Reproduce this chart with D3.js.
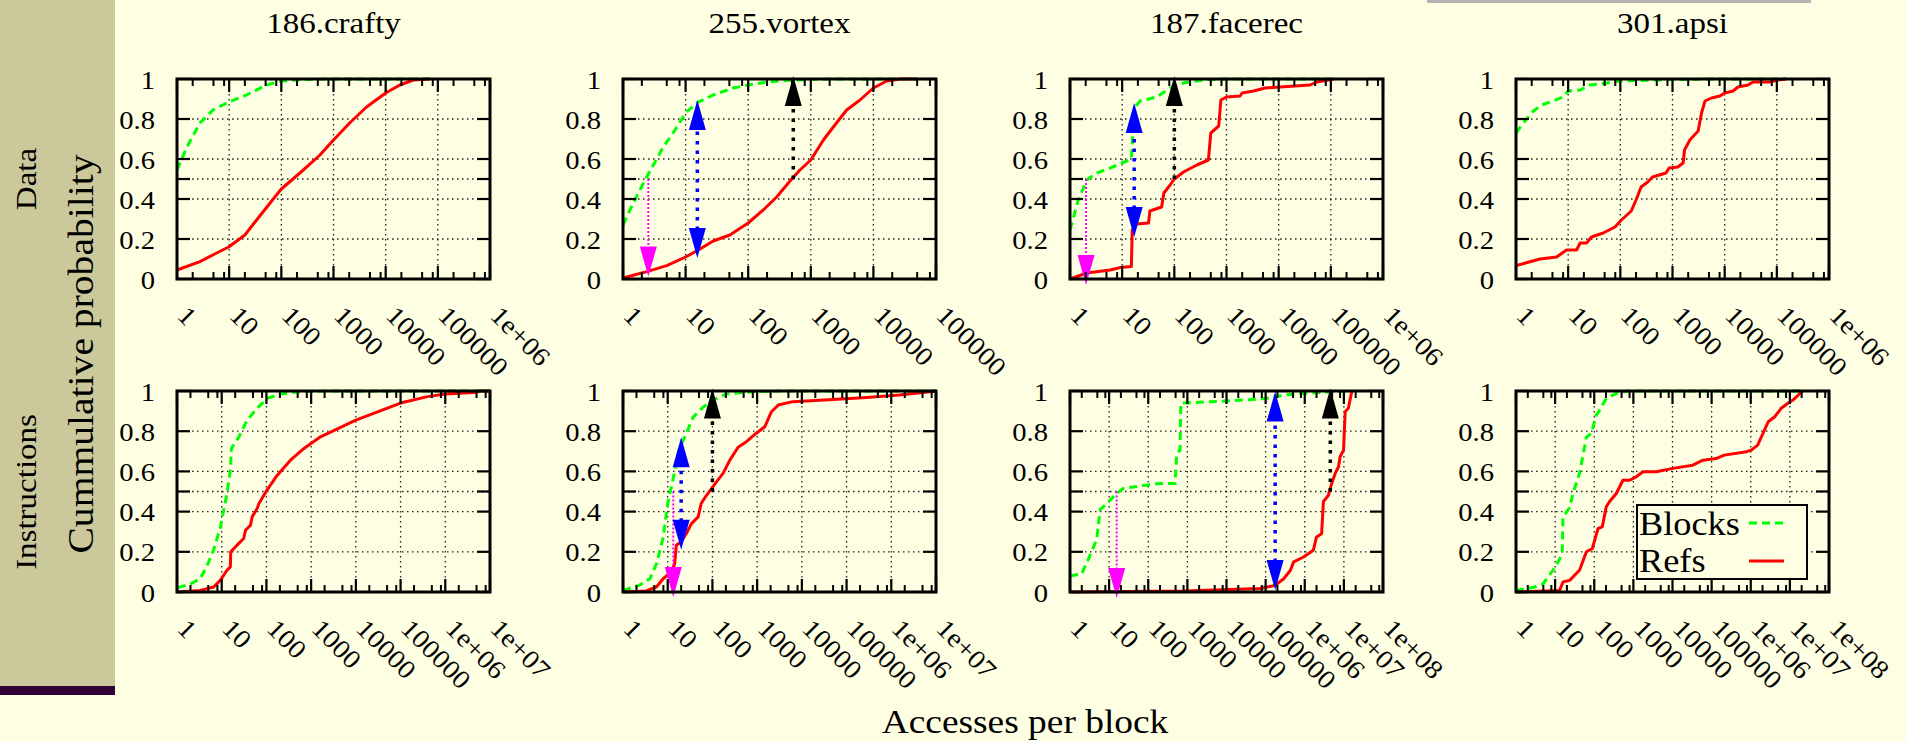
<!DOCTYPE html>
<html>
<head>
<meta charset="utf-8">
<script src="https://cdn.jsdelivr.net/npm/d3@7"></script>
<style>
  html, body { margin: 0; padding: 0; background: #fefee2; }
  svg { display: block; }
</style>
</head>
<body>
<div id="chart"></div>
<script>
const benchmarks = ["186.crafty", "255.vortex", "187.facerec", "301.apsi"];
const rowLabels = ["Data", "Instructions"];
const topDecades = [6, 5, 6, 6];
const bottomDecades = [7, 7, 8, 8];
const xTickLabels = ["1", "10", "100", "1000", "10000", "100000", "1e+06", "1e+07", "1e+08"];
const yTickValues = [0, 0.2, 0.4, 0.6, 0.8, 1];
const yGridValues = [0.2, 0.4, 0.5, 0.6, 0.8];
const minorSteps = [2, 5, 8];
const legendNames = ["Blocks", "Refs"];

// [accesses per block, cumulative probability]
const craftyDataBlocks = [[1,0.545],[1.55,0.66],[2.76,0.78],[4.9,0.845],[9.8,0.885],[21.6,0.92],[52,0.97],[100,0.99],[300,0.998],[1000,1],[70000,1]];
const craftyDataRefs = [[1,0.045],[2.76,0.087],[5.75,0.13],[9.8,0.16],[20,0.22],[33.6,0.295],[70,0.40],[100,0.45],[227,0.53],[550,0.62],[1000,0.695],[2040,0.78],[4300,0.86],[10000,0.93],[18700,0.97],[34000,0.995],[70000,1]];

const vortexDataBlocks = [[1,0.27],[1.46,0.38],[2.39,0.51],[4.4,0.66],[6.3,0.73],[10,0.83],[15,0.88],[27.6,0.92],[58,0.955],[100,0.97],[200,0.985],[525,0.995],[2000,1],[50000,1]];
const vortexDataRefs = [[1,0.005],[2.4,0.037],[5,0.067],[10,0.11],[17,0.15],[27.6,0.19],[51,0.22],[100,0.28],[174,0.345],[285,0.41],[465,0.49],[670,0.545],[1000,0.595],[1590,0.695],[2290,0.76],[3740,0.845],[6100,0.895],[10000,0.955],[16300,0.99],[27000,1],[50000,1]];
const vortexDataArrows = [
  { x: 2.54, y1: 0.5, y2: 0.012, kind: "blocksMedian" },
  { x: 15.4, y1: 0.105, y2: 0.895, kind: "gap" },
  { x: 525, y1: 0.5, y2: 1.015, kind: "refsMedian" }
];

const facerecDataBlocks = [[1,0.245],[1.44,0.395],[2.09,0.495],[3.25,0.53],[5.9,0.555],[10,0.58],[15,0.6],[15.8,0.7],[17.7,0.86],[22,0.89],[46,0.91],[83,0.955],[150,0.98],[360,0.995],[1000,1],[110000,1]];
const facerecDataRefs = [[1,0],[2.09,0.03],[5.9,0.045],[9.1,0.057],[15,0.062],[15.6,0.245],[19,0.275],[32,0.28],[34,0.34],[57,0.36],[63,0.43],[83,0.47],[100,0.5],[150,0.535],[270,0.57],[450,0.595],[500,0.73],[710,0.765],[780,0.895],[1000,0.91],[1820,0.915],[2000,0.93],[3300,0.94],[5500,0.955],[10700,0.96],[40000,0.97],[54000,0.985],[113000,1]];
const facerecDataArrows = [
  { x: 2.03, y1: 0.5, y2: -0.03, kind: "blocksMedian" },
  { x: 17, y1: 0.21, y2: 0.88, kind: "gap" },
  { x: 100, y1: 0.5, y2: 1.015, kind: "refsMedian" }
];

const apsiDataBlocks = [[1,0.73],[1.38,0.78],[2.15,0.84],[3.1,0.87],[5.1,0.89],[8,0.91],[10,0.94],[17,0.945],[26,0.97],[55,0.98],[100,0.99],[1000,0.997],[5000,1],[150000,1]];
const apsiDataRefs = [[1,0.067],[2.9,0.10],[6,0.11],[9.3,0.145],[14.5,0.145],[17,0.18],[22.5,0.18],[28,0.21],[47,0.23],[79,0.26],[105,0.295],[162,0.34],[200,0.395],[250,0.46],[335,0.485],[415,0.51],[750,0.53],[860,0.555],[1260,0.56],[1600,0.58],[1700,0.645],[2150,0.695],[3100,0.74],[3600,0.83],[4200,0.89],[5600,0.905],[8100,0.915],[10000,0.93],[14500,0.94],[18000,0.96],[28000,0.97],[35000,0.985],[74000,0.985],[105000,0.995],[150000,1]];

const craftyInstrBlocks = [[1.05,0.022],[2,0.04],[3.3,0.066],[4.7,0.13],[6.6,0.21],[9.3,0.32],[13.1,0.49],[15.6,0.606],[16.5,0.714],[24,0.77],[37,0.855],[62,0.914],[103,0.963],[205,0.985],[575,0.997],[2000,1],[1e7,1]];
const craftyInstrRefs = [[1,0],[3.3,0.008],[6.6,0.025],[9.3,0.058],[13.1,0.108],[15.6,0.125],[15.9,0.2],[22,0.233],[31,0.266],[34,0.307],[44,0.332],[48,0.374],[62,0.415],[68,0.44],[103,0.507],[173,0.58],[345,0.656],[690,0.714],[1620,0.772],[10000,0.855],[1e5,0.94],[4e5,0.972],[1e6,0.985],[4.4e6,0.992],[6.2e6,1],[1e7,1]];

const vortexInstrBlocks = [[1,0.008],[2.3,0.033],[4,0.066],[5.6,0.14],[7.9,0.27],[10,0.44],[13,0.556],[18.5,0.72],[24,0.77],[37,0.87],[62,0.92],[103,0.955],[205,0.985],[680,0.995],[3000,1],[1e7,1]];
const vortexInstrRefs = [[1,0],[3.3,0.005],[5.6,0.025],[7.9,0.066],[12,0.1],[14.3,0.14],[15.6,0.233],[20,0.25],[26,0.29],[34,0.34],[48,0.374],[56,0.44],[73,0.48],[123,0.548],[173,0.59],[245,0.656],[375,0.72],[575,0.748],[960,0.79],[1480,0.822],[2090,0.897],[2950,0.93],[6300,0.947],[50000,0.958],[2.8e5,0.968],[1.5e6,0.98],[5.1e6,0.992],[1e7,1]];
const vortexInstrArrows = [
  { x: 13.3, y1: 0.5, y2: -0.025, kind: "blocksMedian" },
  { x: 20, y1: 0.21, y2: 0.77, kind: "gap" },
  { x: 100, y1: 0.5, y2: 1.013, kind: "refsMedian" }
];

const facerecInstrBlocks = [[1,0.08],[2,0.09],[3.2,0.18],[4.8,0.26],[5.9,0.41],[8.7,0.44],[15.6,0.49],[23,0.515],[75,0.53],[200,0.54],[485,0.54],[535,0.69],[650,0.706],[680,0.94],[1170,0.942],[10000,0.95],[1.07e5,0.963],[2.9e5,0.98],[2e6,0.992],[1.6e7,1]];
const facerecInstrRefs = [[1,0],[800,0.005],[72000,0.017],[1.75e5,0.033],[2.9e5,0.066],[4.3e5,0.108],[5.2e5,0.15],[9.3e5,0.174],[1.66e6,0.208],[2e6,0.274],[2.7e6,0.29],[3e6,0.45],[4e6,0.48],[4.9e6,0.54],[6e6,0.59],[7.3e6,0.623],[8e6,0.673],[9.8e6,0.706],[1.08e7,0.897],[1.3e7,0.914],[1.6e7,1]];
const facerecInstrArrows = [
  { x: 15.6, y1: 0.5, y2: -0.03, kind: "blocksMedian" },
  { x: 1.75e5, y1: 0.01, y2: 0.997, kind: "gap" },
  { x: 4.5e6, y1: 0.5, y2: 1.013, kind: "refsMedian" }
];

const apsiInstrBlocks = [[1,0.008],[2.7,0.022],[4.9,0.04],[8.8,0.108],[12.6,0.158],[15.2,0.2],[15.9,0.374],[23.5,0.42],[28.6,0.49],[42,0.59],[63,0.77],[84,0.79],[113,0.88],[137,0.905],[203,0.963],[366,0.988],[700,1],[2.1e7,1]];
const apsiInstrRefs = [[1,0],[13,0.008],[15.9,0.05],[23.5,0.058],[42,0.108],[63,0.2],[89,0.216],[125,0.316],[160,0.324],[203,0.424],[247,0.45],[366,0.49],[540,0.556],[800,0.556],[1180,0.573],[1760,0.598],[3870,0.598],[10200,0.615],[33000,0.631],[60000,0.656],[1.3e5,0.664],[2.1e5,0.681],[7.7e5,0.698],[1.03e6,0.706],[1.5e6,0.731],[2.8e6,0.847],[4.1e6,0.872],[6e6,0.914],[8.9e6,0.939],[1.2e7,0.955],[2.1e7,1]];

const panels = [
  { row: 0, col: 0, decades: topDecades[0], blocks: craftyDataBlocks, refs: craftyDataRefs, arrows: [] },
  { row: 0, col: 1, decades: topDecades[1], blocks: vortexDataBlocks, refs: vortexDataRefs, arrows: vortexDataArrows },
  { row: 0, col: 2, decades: topDecades[2], blocks: facerecDataBlocks, refs: facerecDataRefs, arrows: facerecDataArrows },
  { row: 0, col: 3, decades: topDecades[3], blocks: apsiDataBlocks, refs: apsiDataRefs, arrows: [] },
  { row: 1, col: 0, decades: bottomDecades[0], blocks: craftyInstrBlocks, refs: craftyInstrRefs, arrows: [] },
  { row: 1, col: 1, decades: bottomDecades[1], blocks: vortexInstrBlocks, refs: vortexInstrRefs, arrows: vortexInstrArrows },
  { row: 1, col: 2, decades: bottomDecades[2], blocks: facerecInstrBlocks, refs: facerecInstrRefs, arrows: facerecInstrArrows },
  { row: 1, col: 3, decades: bottomDecades[3], blocks: apsiInstrBlocks, refs: apsiInstrRefs, arrows: [], legend: true }
];

const width = 1906, height = 741;
const colLeft = [177, 623, 1070, 1516];
const rowTop = [79, 391];
const boxW = 313, boxH = [200, 201];
const SX = 1.1;  // glyphs in the original come out a bit wide
const FONT = "'Liberation Serif', 'DejaVu Serif', serif";

const arrowStyle = {
  blocksMedian: { color: "#ff00ff", width: 2, dash: "2,2" },
  gap: { color: "#0000ff", width: 3.5, dash: "3.5,6" },
  refsMedian: { color: "#000000", width: 3.5, dash: "3.5,6" }
};

const svg = d3.select("#chart")
  .append("svg")
  .attr("width", width)
  .attr("height", height)
  .style("background", "#fefee2")
  .style("font-family", FONT);

// slide decoration on the left
svg.append("rect").attr("x", 0).attr("y", 0).attr("width", 115).attr("height", 686).attr("fill", "#cbc99b");
svg.append("rect").attr("x", 0).attr("y", 686).attr("width", 115).attr("height", 9).attr("fill", "#330033");
svg.append("rect").attr("x", 1427).attr("y", 0).attr("width", 384).attr("height", 3).attr("fill", "#b4b4b4");

function label(parent, str, px, py, size, anchor, angle = 0) {
  return parent.append("text")
    .attr("transform", `translate(${px},${py}) rotate(${angle}) scale(${SX},1)`)
    .attr("text-anchor", anchor)
    .attr("font-size", size)
    .attr("fill", "#000")
    .text(str);
}

function arrowHead(g, x, y, up, color) {
  const len = 30, half = 8.5;
  const base = up ? y + len : y - len;
  g.append("path")
    .attr("d", `M${x},${y} L${x - half},${base} L${x + half},${base} Z`)
    .attr("fill", color);
}

const lineGen = (x, y) => d3.line().x(d => x(d[0])).y(d => y(d[1]));

panels.forEach(p => {
  const x0 = colLeft[p.col], y0 = rowTop[p.row], h = boxH[p.row];
  const x = d3.scaleLog().domain([1, Math.pow(10, p.decades)]).range([x0, x0 + boxW]);
  const y = d3.scaleLinear().domain([0, 1]).range([y0 + h, y0]);
  const g = svg.append("g");
  const decades = d3.range(0, p.decades + 1).map(e => Math.pow(10, e));
  const minors = decades.slice(0, -1).flatMap(d => minorSteps.map(m => d * m));

  // dotted grid
  g.selectAll(".vgrid").data(decades.slice(1, -1)).join("line")
    .attr("x1", d => x(d)).attr("x2", d => x(d))
    .attr("y1", y0).attr("y2", y0 + h)
    .attr("stroke", "#222").attr("stroke-width", 1.3).attr("stroke-dasharray", "1.5,3.5");
  g.selectAll(".hgrid").data(yGridValues).join("line")
    .attr("x1", x0).attr("x2", x0 + boxW)
    .attr("y1", d => y(d)).attr("y2", d => y(d))
    .attr("stroke", "#222").attr("stroke-width", 1.3).attr("stroke-dasharray", "1.5,3.5");

  // curves
  g.append("path").datum(p.blocks)
    .attr("d", lineGen(x, y))
    .attr("fill", "none").attr("stroke", "#00ff00").attr("stroke-width", 3)
    .attr("stroke-dasharray", "8,5");
  g.append("path").datum(p.refs)
    .attr("d", lineGen(x, y))
    .attr("fill", "none").attr("stroke", "#ff0000").attr("stroke-width", 3)
    .attr("stroke-linejoin", "round");

  // arrows
  p.arrows.forEach(a => {
    const st = arrowStyle[a.kind];
    const ax = x(a.x);
    const both = a.kind === "gap";
    const sy1 = y(a.y1), sy2 = y(a.y2);
    const dir = sy2 > sy1 ? 1 : -1;
    g.append("line")
      .attr("x1", ax).attr("x2", ax)
      .attr("y1", both ? sy1 + dir * 28 : sy1).attr("y2", sy2 - dir * 28)
      .attr("stroke", st.color).attr("stroke-width", st.width)
      .attr("stroke-dasharray", st.dash);
    arrowHead(g, ax, sy2, dir < 0, st.color);
    if (both) arrowHead(g, ax, sy1, dir > 0, st.color);
  });

  // border + ticks
  g.append("rect")
    .attr("x", x0).attr("y", y0).attr("width", boxW).attr("height", h)
    .attr("fill", "none").attr("stroke", "#000").attr("stroke-width", 3);

  const yt = yTickValues.concat([0.5]);
  g.selectAll(".ytl").data(yt).join("line")
    .attr("x1", x0).attr("x2", x0 + 13).attr("y1", d => y(d)).attr("y2", d => y(d))
    .attr("stroke", "#000").attr("stroke-width", 2.2);
  g.selectAll(".ytr").data(yt).join("line")
    .attr("x1", x0 + boxW - 13).attr("x2", x0 + boxW).attr("y1", d => y(d)).attr("y2", d => y(d))
    .attr("stroke", "#000").attr("stroke-width", 2.2);

  [[y0 + h, -1], [y0, 1]].forEach(([edge, s]) => {
    g.selectAll(null).data(decades).join("line")
      .attr("x1", d => x(d)).attr("x2", d => x(d))
      .attr("y1", edge).attr("y2", edge + s * 13)
      .attr("stroke", "#000").attr("stroke-width", 2.2);
    g.selectAll(null).data(minors).join("line")
      .attr("x1", d => x(d)).attr("x2", d => x(d))
      .attr("y1", edge).attr("y2", edge + s * 7)
      .attr("stroke", "#000").attr("stroke-width", 2);
  });

  // tick labels
  yTickValues.forEach(v => {
    label(g, String(v), x0 - 22, y(v) + 9.5, 26, "end");
  });
  decades.forEach((d, i) => {
    label(g, xTickLabels[i], x(d) - 1, y0 + h + 38, 26, "start", 45);
  });

  if (p.row === 0) {
    label(g, benchmarks[p.col], x0 + boxW / 2, 33, 30, "middle");
  }

  if (p.legend) {
    const lg = g.append("g");
    lg.append("rect")
      .attr("x", 1637).attr("y", 505).attr("width", 170).attr("height", 74)
      .attr("fill", "#fefee2").attr("stroke", "#000").attr("stroke-width", 2);
    label(lg, legendNames[0], 1639, 535, 33, "start");
    label(lg, legendNames[1], 1639, 572, 33, "start");
    lg.append("line").attr("x1", 1749).attr("x2", 1784).attr("y1", 523).attr("y2", 523)
      .attr("stroke", "#00ff00").attr("stroke-width", 3).attr("stroke-dasharray", "8,5");
    lg.append("line").attr("x1", 1749).attr("x2", 1784).attr("y1", 561).attr("y2", 561)
      .attr("stroke", "#ff0000").attr("stroke-width", 3);
  }
});

// row and axis labels
label(svg, rowLabels[0], 36, 179, 30, "middle", -90);
label(svg, rowLabels[1], 36, 492, 30, "middle", -90);
label(svg, "Cummulative probability", 93, 354, 36, "middle", -90);
label(svg, "Accesses per block", 1025, 733, 34, "middle");
</script>
</body>
</html>
